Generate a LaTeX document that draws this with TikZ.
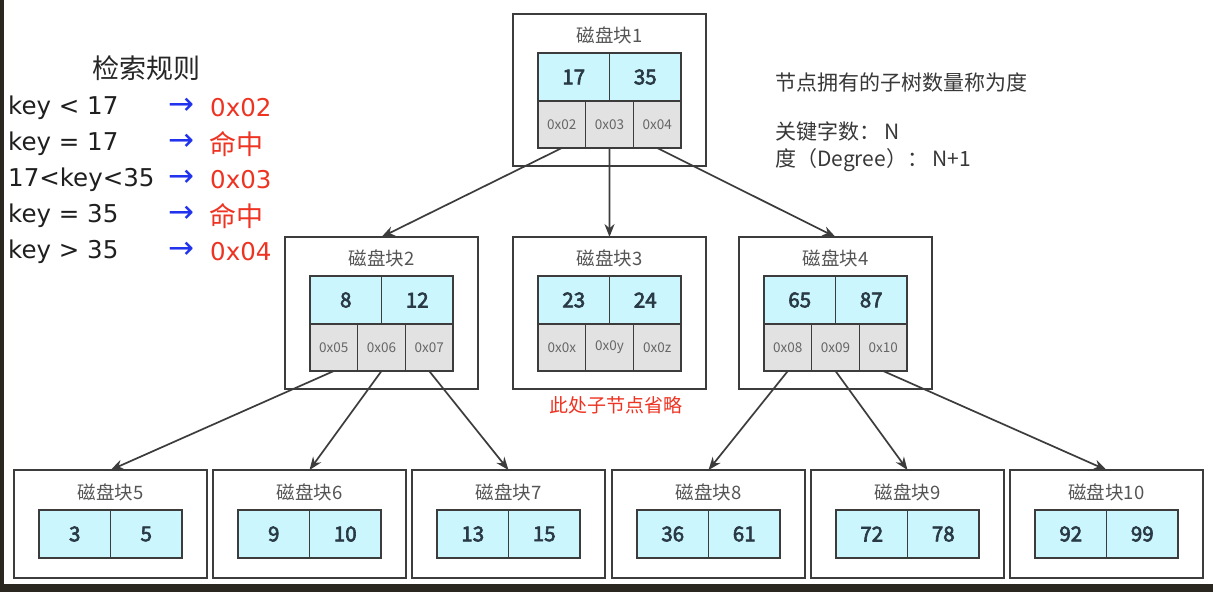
\documentclass[tikz,border=0pt]{standalone}
\usepackage{fontspec}
\setmainfont{Noto Sans CJK SC}[AutoFakeBold=3]
\newfontfamily\latinfont{DejaVu Sans}
\usetikzlibrary{arrows.meta,calc}
\definecolor{keyfill}{HTML}{CCF6FE}
\definecolor{ptrfill}{HTML}{E2E2E2}
\definecolor{edgecol}{HTML}{3C3C3C}
\definecolor{darkedge}{HTML}{2A2620}
\definecolor{titlecol}{HTML}{555555}
\definecolor{numcol}{HTML}{2A3A45}
\definecolor{ptrtext}{HTML}{666666}
\definecolor{rulered}{HTML}{EE3322}
\definecolor{ruleblue}{HTML}{2233EE}
\tikzset{
  blockbox/.style={draw=edgecol, line width=1.8pt, fill=white, inner sep=0pt, outer sep=0pt, minimum width=193pt},
  titletext/.style={text=titlecol, font=\fontsize{18.5}{21}\selectfont, inner sep=0pt},
  keycell/.style={draw=edgecol, line width=1.5pt, fill=keyfill, inner sep=0pt, outer sep=0pt,
    minimum width=71.5pt, minimum height=48pt, text=numcol, font=\fontsize{20.5}{24}\selectfont\bfseries},
  ptrcell/.style={draw=edgecol, line width=1.5pt, fill=ptrfill, inner sep=0pt, outer sep=0pt,
    minimum width=47.67pt, minimum height=47pt, text=ptrtext, font=\fontsize{13.5}{16}\selectfont},
  conn/.style={draw=edgecol, line width=1.7pt, -{Stealth[length=13pt,width=10pt]}},
  ruletext/.style={anchor=west, inner sep=0pt, text=black!88, font=\fontsize{24.5}{30}\selectfont\latinfont},
  rulearrow/.style={anchor=west, inner sep=0pt, text=ruleblue, font=\fontsize{31}{34}\selectfont\latinfont},
  ruleres/.style={anchor=west, inner sep=0pt, text=rulered, font=\fontsize{24.5}{30}\selectfont\latinfont},
  rulehit/.style={anchor=west, inner sep=0pt, text=rulered, font=\fontsize{27}{30}\selectfont},
  notetext/.style={anchor=west, inner sep=0pt, text=black!78, font=\fontsize{21}{26}\selectfont}
}
\newcommand\innerblock[9]{%
  \node[blockbox, minimum height=152pt, anchor=north west] (#1) at (#2,#3) {};
  \node[titletext] (#1t) at ($(#1.north)+(0,21)$) {#4};
  \node[keycell, anchor=north west] (#1k1) at ($(#1.north west)+(25,39)$) {#5};
  \node[keycell, anchor=north west] (#1k2) at (#1k1.north east) {#6};
  \node[ptrcell, anchor=north west] (#1p1) at (#1k1.south west) {#7};
  \node[ptrcell, anchor=north west] (#1p2) at (#1p1.north east) {#8};
  \node[ptrcell, anchor=north west] (#1p3) at (#1p2.north east) {#9};
}
\newcommand\leafblock[5]{%
  \node[blockbox, minimum height=108pt, anchor=north west] (#1) at (#2,470) {};
  \node[titletext] (#1t) at ($(#1.north)+(0,22)$) {#3};
  \node[keycell, anchor=north west] (#1k1) at ($(#1.north west)+(25,40)$) {#4};
  \node[keycell, anchor=north west] (#1k2) at (#1k1.north east) {#5};
}
\begin{document}
\begin{tikzpicture}[x=1pt,y=-1pt]
\useasboundingbox (0,0) rectangle (1213,592);
\fill[white] (0,0) rectangle (1213,592);
\fill[darkedge] (0,0) rectangle (4,592);
\fill[darkedge] (0,584) rectangle (1213,592);

% rules on the left
\node[inner sep=0pt, text=black!85, font=\fontsize{27}{30}\selectfont] (rtitle) at (146,68) {检索规则};
\node[ruletext] (r1) at (8,108) {key < 17};
\node[ruletext] (r2) at (8,144) {key = 17};
\node[ruletext] (r3) at (8,180) {17<key<35};
\node[ruletext] (r4) at (8,216) {key = 35};
\node[ruletext] (r5) at (8,252) {key > 35};
\foreach \i/\yy in {1/106,2/142,3/178,4/214,5/250}{
  \node[rulearrow] (ra\i) at (168,\yy) {→};
}
\node[ruleres] (rr1) at (210,108) {0x02};
\node[rulehit] (rr2) at (209,144) {命中};
\node[ruleres] (rr3) at (210,180) {0x03};
\node[rulehit] (rr4) at (209,216) {命中};
\node[ruleres] (rr5) at (210,252) {0x04};

% notes on the right
\node[notetext] (n1) at (775,82) {节点拥有的子树数量称为度};
\node[notetext] (n2) at (775,131) {关键字数： N};
\node[notetext] (n3) at (775,160) {度（Degree）： N+1};

% blocks
\innerblock{b1}{513}{14}{磁盘块1}{17}{35}{0x02}{0x03}{0x04}
\innerblock{b2}{285}{237}{磁盘块2}{8}{12}{0x05}{0x06}{0x07}
\innerblock{b3}{513}{237}{磁盘块3}{23}{24}{0x0x}{0x0y}{0x0z}
\innerblock{b4}{739}{237}{磁盘块4}{65}{87}{0x08}{0x09}{0x10}
\node[inner sep=0pt, text=rulered, font=\fontsize{19}{22}\selectfont] (omit) at (616,405) {此处子节点省略};

\leafblock{b5}{14}{磁盘块5}{3}{5}
\leafblock{b6}{213}{磁盘块6}{9}{10}
\leafblock{b7}{412}{磁盘块7}{13}{15}
\leafblock{b8}{612}{磁盘块8}{36}{61}
\leafblock{b9}{811}{磁盘块9}{72}{78}
\leafblock{b10}{1010}{磁盘块10}{92}{99}

% connectors
\draw[conn] (b1p1.south) -- (b2.north);
\draw[conn] (b1p2.south) -- (b3.north);
\draw[conn] (b1p3.south) -- (b4.north);
\draw[conn] (b2p1.south) -- (b5.north);
\draw[conn] (b2p2.south) -- (b6.north);
\draw[conn] (b2p3.south) -- (b7.north);
\draw[conn] (b4p1.south) -- (b8.north);
\draw[conn] (b4p2.south) -- (b9.north);
\draw[conn] (b4p3.south) -- (b10.north);
\end{tikzpicture}
\end{document}
